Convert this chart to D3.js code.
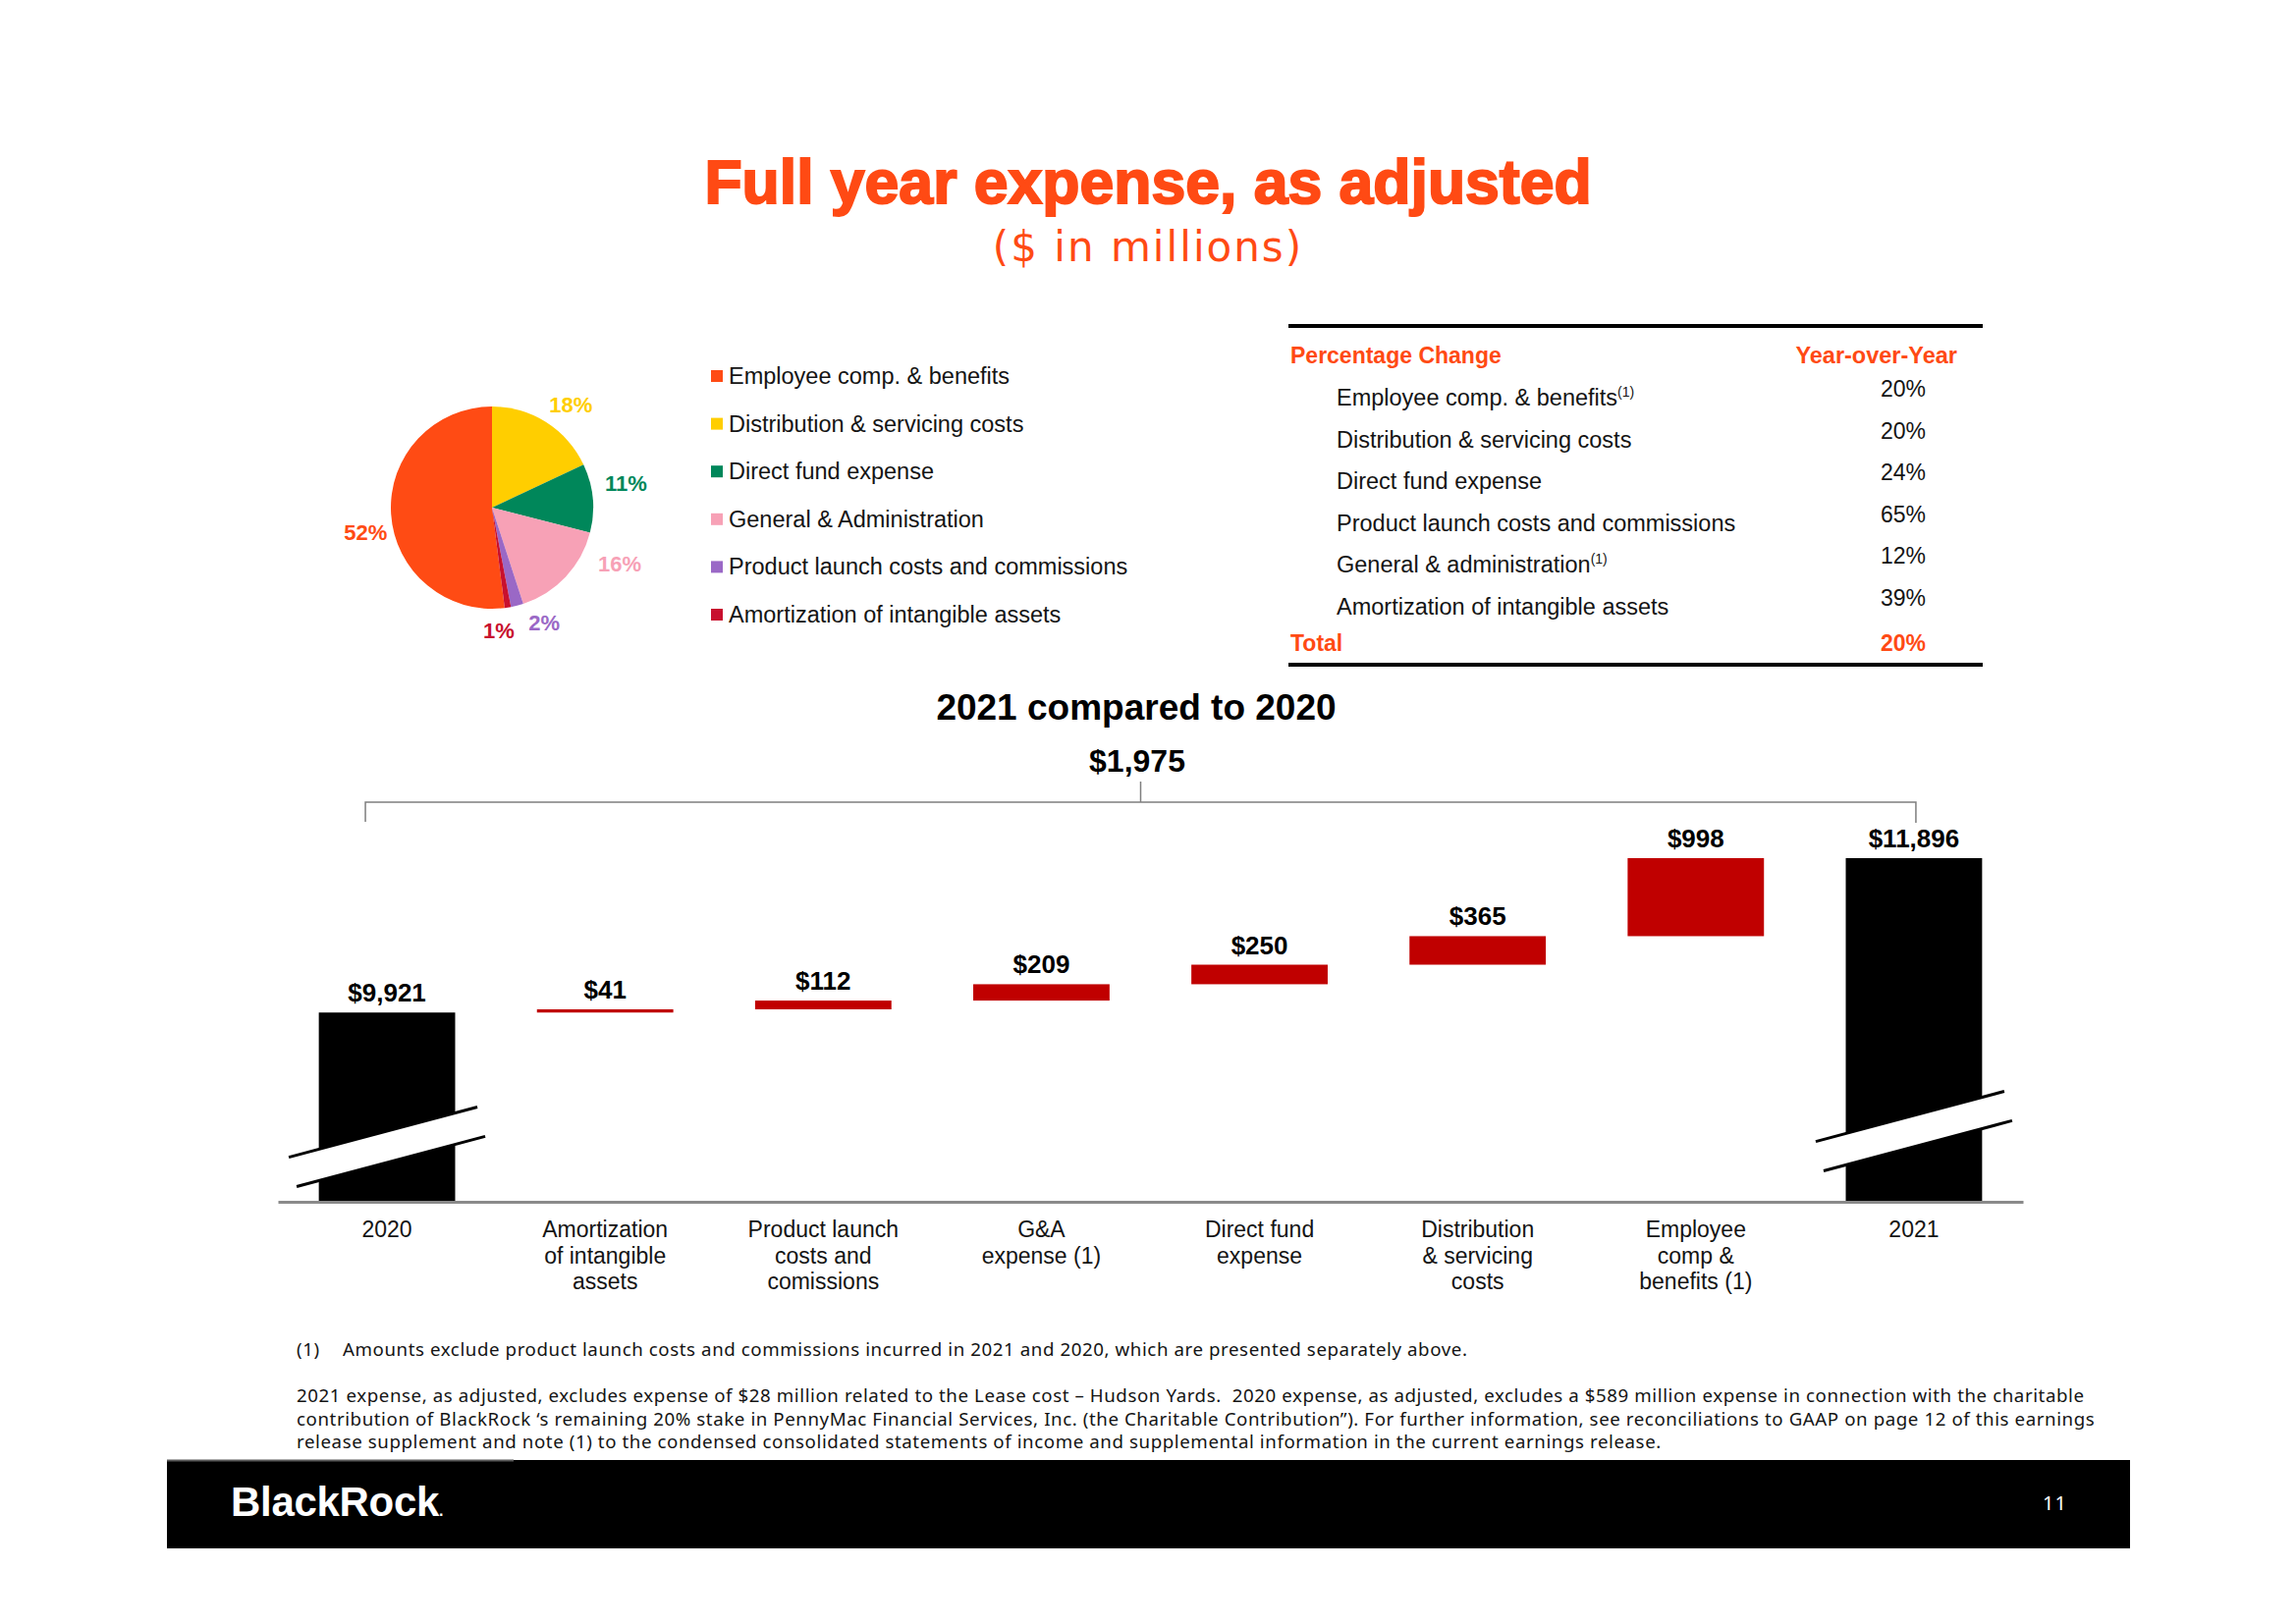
<!DOCTYPE html>
<html><head><meta charset="utf-8">
<script src="https://cdn.jsdelivr.net/npm/d3@7"></script>
<style>html,body{margin:0;padding:0;background:#fff;} svg{display:block;} text{white-space:pre;}</style>
</head><body>
<svg id="chart" width="2338" height="1653"></svg>
<script>
// ---------------- DATA ----------------
const pieCategories = ["Employee comp. & benefits","Distribution & servicing costs","Direct fund expense","General & Administration","Product launch costs and commissions","Amortization of intangible assets"];
const pieShares = [52, 18, 11, 16, 2, 1];
const pieColors = ["#FF4B14", "#FFCE00", "#00875A", "#F7A1B6", "#9A68C6", "#C8102E"];

const tableItems = ["Employee comp. & benefits","Distribution & servicing costs","Direct fund expense","Product launch costs and commissions","General & administration","Amortization of intangible assets"];
const tableNoteMarks = ["(1)", "", "", "", "(1)", ""];
const tableChanges = ["20%", "20%", "24%", "65%", "12%", "39%"];
const tableTotalChange = "20%";

const wfCategories = ["2020","Amortization of intangible assets","Product launch costs and comissions","G&A expense (1)","Direct fund expense","Distribution & servicing costs","Employee comp & benefits (1)","2021"];
const wfLabelLines = [["2020"],["Amortization","of intangible","assets"],["Product launch","costs and","comissions"],["G&A","expense (1)"],["Direct fund","expense"],["Distribution","& servicing","costs"],["Employee","comp &","benefits (1)"],["2021"]];
const wfValues = [9921, 41, 112, 209, 250, 365, 998, 11896];
const wfIsTotal = [true, false, false, false, false, false, false, true];
const wfChange = 1975;

const footnoteMark = "(1)";
const footnoteText = "Amounts exclude product launch costs and commissions incurred in 2021 and 2020, which are presented separately above.";
const noteLines = [
 "2021 expense, as adjusted, excludes expense of $28 million related to the Lease cost \u2013 Hudson Yards.  2020 expense, as adjusted, excludes a $589 million expense in connection with the charitable",
 "contribution of BlackRock \u2018s remaining 20% stake in PennyMac Financial Services, Inc. (the Charitable Contribution\u201d). For further information, see reconciliations to GAAP on page 12 of this earnings",
 "release supplement and note (1) to the condensed consolidated statements of income and supplemental information in the current earnings release."
];

// ---------------- LAYOUT ----------------
const ORANGE = "#FF4A14", RED = "#C00000", GRAY = "#8a8a8a", INK = "#141414";
const SANS = "'Liberation Sans', Arial, sans-serif";
const NOTE = "'Noto Sans', sans-serif";
const svg = d3.select("#chart");
svg.append("rect").attr("width",2338).attr("height",1653).attr("fill","#fff");

// Title
svg.append("text").attr("x",1169).attr("y",207).attr("text-anchor","middle")
  .attr("font-family",SANS).attr("font-weight",700).attr("font-size",62.5)
  .attr("fill",ORANGE).attr("stroke",ORANGE).attr("stroke-width",2)
  .text("Full year expense, as adjusted");
svg.append("text").attr("x",1169).attr("y",266).attr("text-anchor","middle")
  .attr("font-family","'DejaVu Sans', sans-serif").attr("font-size",42).attr("letter-spacing",2)
  .attr("fill",ORANGE).text("($ in millions)");

// ---------------- PIE ----------------
const pieCx = 501, pieCy = 517, pieR = 103;
const total = d3.sum(pieShares);
const a0 = -2*Math.PI*pieShares[0]/total;
const pie = d3.pie().sort(null).value(d=>d).startAngle(a0).endAngle(a0+2*Math.PI);
const arcs = pie(pieShares);
const arc = d3.arc().innerRadius(0).outerRadius(pieR);
const labelArc = d3.arc().innerRadius(133).outerRadius(133);
const labelNudge = {
  "Employee comp. & benefits":[4,17], "Distribution & servicing costs":[9,8], "Direct fund expense":[4,-12],
  "General & Administration":[33,-34], "Product launch costs and commissions":[20,-11], "Amortization of intangible assets":[-14,-6]
};
const gPie = svg.append("g").attr("transform",`translate(${pieCx},${pieCy})`);
gPie.selectAll("path").data(arcs).join("path").attr("d",arc).attr("fill",(d,i)=>pieColors[i]);
gPie.selectAll("text").data(arcs).join("text")
  .attr("x",(d,i)=>labelArc.centroid(d)[0]+labelNudge[pieCategories[i]][0])
  .attr("y",(d,i)=>labelArc.centroid(d)[1]+labelNudge[pieCategories[i]][1])
  .attr("text-anchor","middle").attr("dominant-baseline","central")
  .attr("font-family",SANS).attr("font-weight",700).attr("font-size",22)
  .attr("fill",(d,i)=>pieColors[i]).text((d,i)=>pieShares[i]+"%");

// Legend
const legY = d3.scalePoint().domain(pieCategories).range([383,626]);
const gLeg = svg.append("g");
pieCategories.forEach((c,i)=>{
  gLeg.append("rect").attr("x",724).attr("y",legY(c)-6).attr("width",12).attr("height",12).attr("fill",pieColors[i]);
  gLeg.append("text").attr("x",742).attr("y",legY(c)+8).attr("font-family",SANS).attr("font-size",23.5)
    .attr("fill",INK).text(c);
});

// ---------------- TABLE ----------------
const gT = svg.append("g");
gT.append("line").attr("x1",1312).attr("x2",2019).attr("y1",332).attr("y2",332).attr("stroke","#000").attr("stroke-width",4);
gT.append("line").attr("x1",1312).attr("x2",2019).attr("y1",677).attr("y2",677).attr("stroke","#000").attr("stroke-width",4);
gT.append("text").attr("x",1314).attr("y",370).attr("font-family",SANS).attr("font-weight",700).attr("font-size",23)
  .attr("fill",ORANGE).text("Percentage Change");
gT.append("text").attr("x",1993).attr("y",370).attr("text-anchor","end").attr("font-family",SANS).attr("font-weight",700).attr("font-size",23.5)
  .attr("fill",ORANGE).text("Year-over-Year");
const rowY = d3.scalePoint().domain(tableItems).range([413,626]);
tableItems.forEach((t,i)=>{
  const tx = gT.append("text").attr("x",1361).attr("y",rowY(t)).attr("font-family",SANS).attr("font-size",23.5).attr("fill",INK);
  tx.append("tspan").text(t);
  if (tableNoteMarks[i]) tx.append("tspan").attr("font-size",14).attr("dy",-9).text(tableNoteMarks[i]);
  gT.append("text").attr("x",1961).attr("y",rowY(t)-9).attr("text-anchor","end").attr("font-family",SANS).attr("font-size",23)
    .attr("fill",INK).text(tableChanges[i]);
});
gT.append("text").attr("x",1314).attr("y",663).attr("font-family",SANS).attr("font-weight",700).attr("font-size",23)
  .attr("fill",ORANGE).text("Total");
gT.append("text").attr("x",1961).attr("y",663).attr("text-anchor","end").attr("font-family",SANS).attr("font-weight",700).attr("font-size",23)
  .attr("fill",ORANGE).text(tableTotalChange);

// ---------------- WATERFALL ----------------
const axisFloor = 7500;
const x = d3.scaleBand().domain(wfCategories).range([283,2060]).paddingInner(0.375).paddingOuter(0.1875);
const y = d3.scaleLinear().domain([axisFloor, wfValues[wfValues.length-1]]).range([1224,874]);
let run = 0;
const steps = wfValues.map((v,i)=>{
  let s,e;
  if (wfIsTotal[i]) { s = axisFloor; e = v; run = v; }
  else { s = run; e = run + v; run = e; }
  return {cat: wfCategories[i], v, s, e, total: wfIsTotal[i]};
});
const fmt = d3.format("$,.0f");
const gW = svg.append("g");
gW.selectAll("rect.bar").data(steps).join("rect").attr("class","bar")
  .attr("x",d=>x(d.cat)).attr("width",x.bandwidth())
  .attr("y",d=>y(Math.max(d.s,d.e))).attr("height",d=>Math.max(1,Math.abs(y(d.s)-y(d.e))))
  .attr("fill",d=>d.total?"#000":RED);
gW.selectAll("text.val").data(steps).join("text").attr("class","val")
  .attr("x",d=>x(d.cat)+x.bandwidth()/2).attr("y",d=>y(Math.max(d.s,d.e))-11)
  .attr("text-anchor","middle").attr("font-family",SANS).attr("font-weight",700).attr("font-size",26)
  .attr("fill","#000").text(d=>fmt(d.v));

// axis breaks on total bars
const breakLift = {"2020":56, "2021":72};
steps.filter(d=>d.total).forEach(d=>{
  const cx = x(d.cat)+x.bandwidth()/2, cy = y(axisFloor)-breakLift[d.cat];
  const hw = 96, slope = -0.266, gap = 32;
  const p = (dx,dy)=>[cx+dx, cy+dy+slope*dx];
  const up1 = p(-hw-4,-gap/2), up2 = p(hw-4,-gap/2), lo1 = p(-hw+4,gap/2), lo2 = p(hw+4,gap/2);
  gW.append("path").attr("d",`M${up1}L${up2}L${lo2}L${lo1}Z`).attr("fill","#fff");
  gW.append("line").attr("x1",up1[0]).attr("y1",up1[1]).attr("x2",up2[0]).attr("y2",up2[1]).attr("stroke","#000").attr("stroke-width",3);
  gW.append("line").attr("x1",lo1[0]).attr("y1",lo1[1]).attr("x2",lo2[0]).attr("y2",lo2[1]).attr("stroke","#000").attr("stroke-width",3);
});

// axis
const gAx = svg.append("g").attr("transform",`translate(0,${y(axisFloor)})`)
  .call(d3.axisBottom(x).tickSize(0).tickSizeOuter(0).tickFormat(""));
gAx.select(".domain").attr("stroke",GRAY).attr("stroke-width",3);
wfCategories.forEach((c,i)=>{
  const t = gAx.append("text").attr("x",x(c)+x.bandwidth()/2).attr("y",36).attr("text-anchor","middle")
    .attr("font-family",SANS).attr("font-size",23).attr("fill",INK);
  wfLabelLines[i].forEach((ln,j)=>t.append("tspan").attr("x",x(c)+x.bandwidth()/2).attr("dy",j?26.6:0).text(ln));
});

// bracket
const bL = x(wfCategories[0])+x.bandwidth()/2-22, bR = x(wfCategories[7])+x.bandwidth()/2+2, bY = 817, bM = (bL+bR)/2;
gW.append("path").attr("d",`M${bL},837V${bY}H${bR}V838M${bM},${bY}V796`).attr("fill","none").attr("stroke","#7f7f7f").attr("stroke-width",1.5);
svg.append("text").attr("x",1157).attr("y",733).attr("text-anchor","middle").attr("font-family",SANS).attr("font-weight",700)
  .attr("font-size",37).attr("fill","#000").text("2021 compared to 2020");
svg.append("text").attr("x",1158).attr("y",786).attr("text-anchor","middle").attr("font-family",SANS).attr("font-weight",700)
  .attr("font-size",32).attr("fill","#000").text(fmt(wfChange));

// ---------------- FOOTNOTES ----------------
const noteX = 302, noteRight = 2122;
const gN = svg.append("g").attr("font-family",NOTE).attr("font-size",17).attr("fill",INK);
gN.append("text").attr("x",noteX).attr("y",1381).text(footnoteMark);
gN.append("text").attr("x",349).attr("y",1381).text(footnoteText);
const nLines = noteLines.map((ln,i)=>gN.append("text").attr("x",noteX).attr("y",1428+i*23.5).text(ln));
// fit the first paragraph line to the slide's text width: grow the type a little, then track the rest
const targetW = noteRight-noteX;
const natural = nLines[0].node().getComputedTextLength();
const fs = 17*Math.min(1.1, targetW/natural);
gN.attr("font-size",fs);
const natural2 = nLines[0].node().getComputedTextLength();
const track = Math.max(0, (targetW-natural2)/(noteLines[0].length-1));
gN.selectAll("text").attr("letter-spacing",track);

// ---------------- FOOTER ----------------
svg.append("rect").attr("x",170).attr("y",1487).attr("width",1999).attr("height",90).attr("fill","#000");
svg.append("line").attr("x1",170).attr("x2",523).attr("y1",1487.5).attr("y2",1487.5).attr("stroke","#5a5a5a").attr("stroke-width",2);
const logo = svg.append("text").attr("x",235).attr("y",1544).attr("font-family",SANS).attr("font-weight",700).attr("font-size",42)
  .attr("letter-spacing",-0.3).attr("fill","#fff");
logo.append("tspan").text("BlackRock");
logo.append("tspan").attr("font-size",16).text(".");
svg.append("text").attr("x",2105).attr("y",1538).attr("text-anchor","end").attr("font-family",NOTE).attr("font-size",20)
  .attr("letter-spacing",1).attr("fill","#fff").text("11");
</script>
</body></html>
